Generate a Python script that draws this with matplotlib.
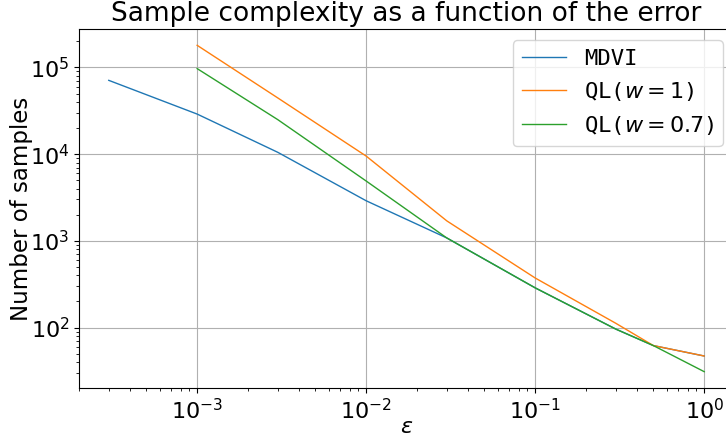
import matplotlib
matplotlib.use("Agg")
import matplotlib.pyplot as plt

# data (log-log)
eps_mdvi = [3e-4, 1e-3, 3e-3, 1e-2, 3e-2, 1e-1, 3e-1, 5e-1, 1.0]
n_mdvi = [7.1e4, 2.9e4, 1.05e4, 2.9e3, 1.08e3, 2.87e2, 9.6e1, 6.2e1, 4.7e1]

eps_ql = [1e-3, 3e-3, 1e-2, 3e-2, 1e-1, 3e-1, 5e-1, 1.0]
n_ql1 = [1.8e5, 4.45e4, 9.5e3, 1.7e3, 3.73e2, 1.12e2, 6.2e1, 4.7e1]
n_ql07 = [9.7e4, 2.5e4, 4.9e3, 1.08e3, 2.87e2, 9.6e1, 6.2e1, 3.1e1]

labels = ["MDVI", r"QL($w=1$)", r"QL($w=0.7$)"]

fig = plt.figure(figsize=(7.26, 4.38), dpi=100)
ax = fig.add_axes([79 / 726, 50 / 438, 655 / 726, 359 / 438])

ax.plot(eps_mdvi, n_mdvi, lw=1.0, label=labels[0])
ax.plot(eps_ql, n_ql1, lw=1.0, label=labels[1])
ax.plot(eps_ql, n_ql07, lw=1.0, label=labels[2])

ax.set_xscale("log")
ax.set_yscale("log")
ax.grid(True, which="major", color="#b0b0b0", lw=0.8)

ax.set_title("Sample complexity as a function of the error", fontsize=19)
ax.set_xlabel(r"$\epsilon$", fontsize=16, labelpad=-4)
ax.set_ylabel("Number of samples", fontsize=16.5, labelpad=-2)
ax.tick_params(labelsize=16)

ax.legend(prop={"family": "monospace", "size": 16}, loc="upper right",
          bbox_to_anchor=(1.0, 1.0))

fig.savefig("out.png", dpi=100)
